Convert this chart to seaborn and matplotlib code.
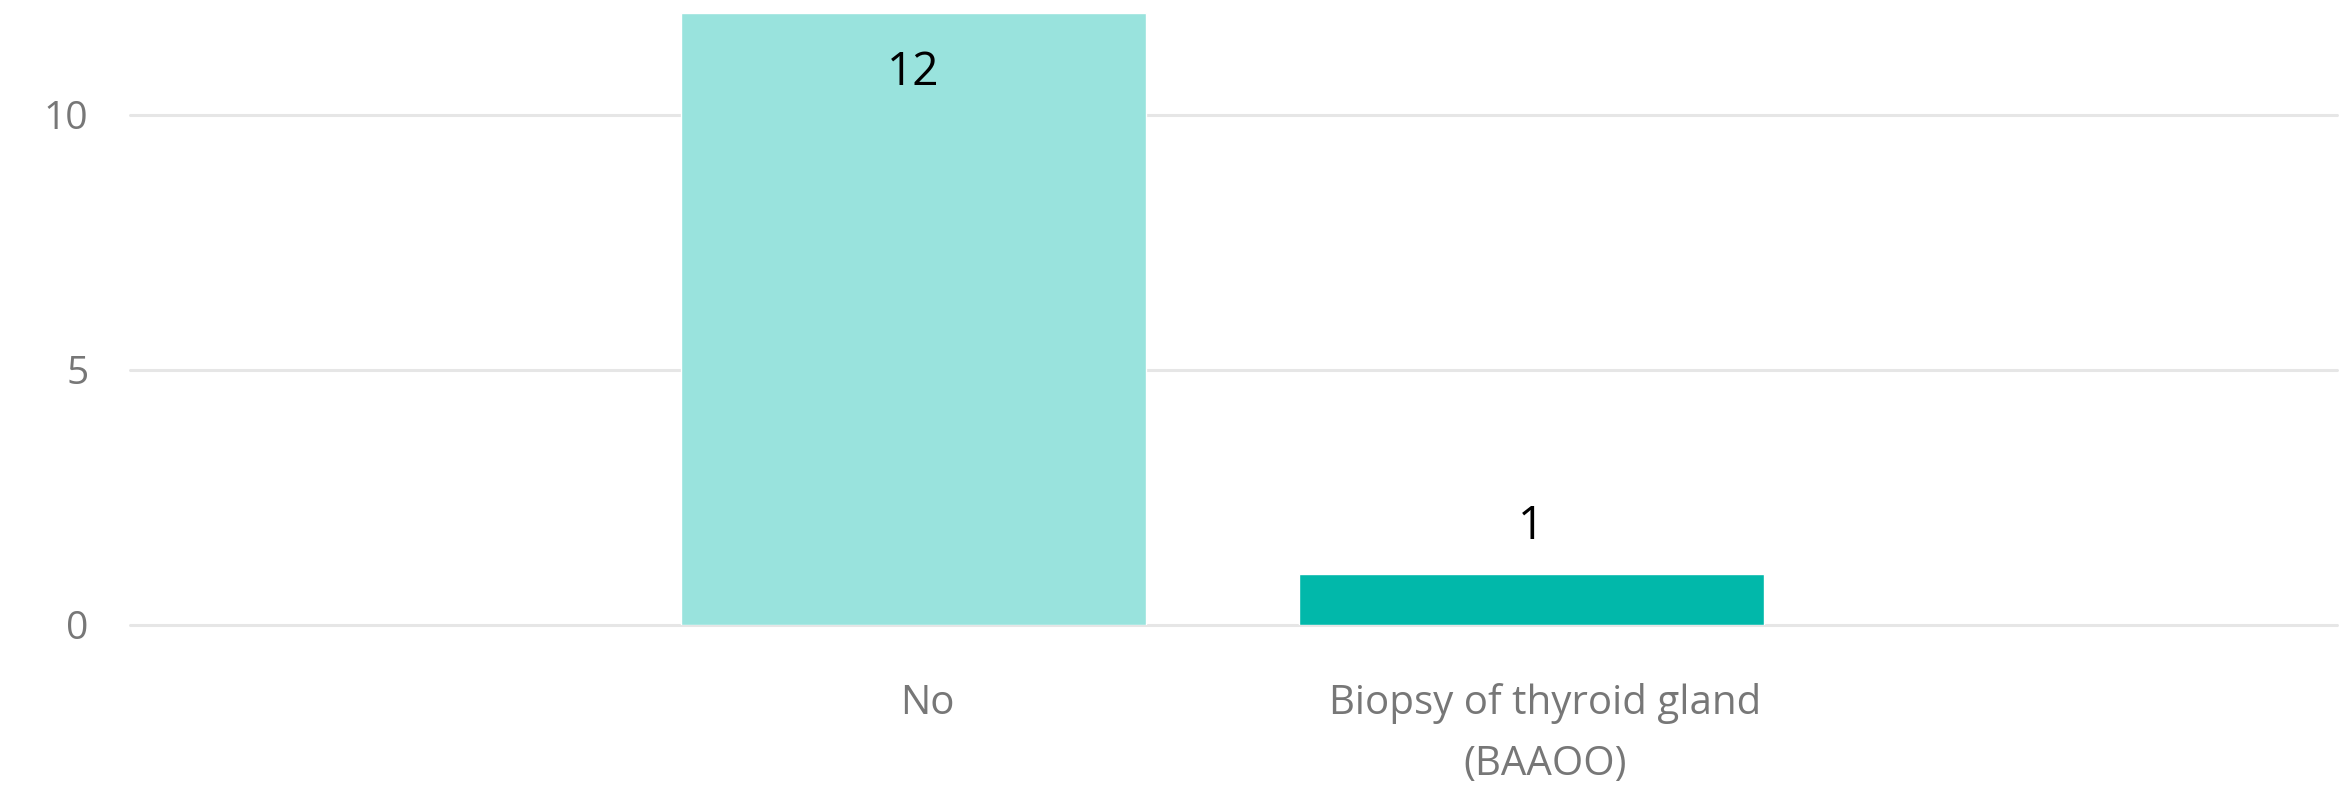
import matplotlib
matplotlib.use('Agg')
import matplotlib.pyplot as plt
import matplotlib.transforms as mtransforms
import pandas as pd
import seaborn as sns

# 数据
categories = ['No', 'Biopsy of thyroid gland\n(BAAOO)']
counts = [12, 1]
bar_colors = ['#99E3DD', '#01B8AA']

df = pd.DataFrame({'category': categories, 'count': counts})

sns.set_style('white')
plt.rcParams['font.family'] = ['Open Sans', 'DejaVu Sans']

fig = plt.figure(figsize=(23.51, 7.92), dpi=100)
ax = fig.add_axes([0.0553, 0.211, 0.9387, 0.7726])

sns.barplot(data=df, x='category', y='count', hue='category',
            palette=bar_colors, width=0.753, saturation=1,
            legend=False, ax=ax)

ax.set_xlim(-1.269, 2.305)
ax.set_ylim(0, 12)
ax.set_yticks([0, 5, 10])
ax.yaxis.grid(True, color='#e6e6e6', linewidth=2.2)
for gl in ax.get_ygridlines():
    gl.set_clip_on(False)
ax.set_axisbelow(True)
for s in ax.spines.values():
    s.set_visible(False)
ax.set_xlabel('')
ax.set_ylabel('')
ax.tick_params(axis='y', length=0, pad=30, labelsize=28, labelcolor='#777777')
ax.tick_params(axis='x', length=0, pad=42, labelsize=29, labelcolor='#777777')
# x 轴标签略向右偏
shift = mtransforms.ScaledTranslation(10 / 72, 0, fig.dpi_scale_trans)
for lbl in ax.get_xticklabels():
    lbl.set_linespacing(1.65)
    lbl.set_transform(lbl.get_transform() + shift)

# 数据标签：第一根在柱内顶部，第二根在柱上方
for i, v in enumerate(counts):
    if i == 0:
        ax.annotate(str(v), (i, v), xytext=(0, -43), textcoords='offset points',
                    ha='center', va='center', fontsize=33, color='black')
    else:
        ax.annotate(str(v), (i, v), xytext=(0, 34), textcoords='offset points',
                    ha='center', va='center', fontsize=33, color='black')

plt.savefig('out.png', dpi=100)
plt.close()
